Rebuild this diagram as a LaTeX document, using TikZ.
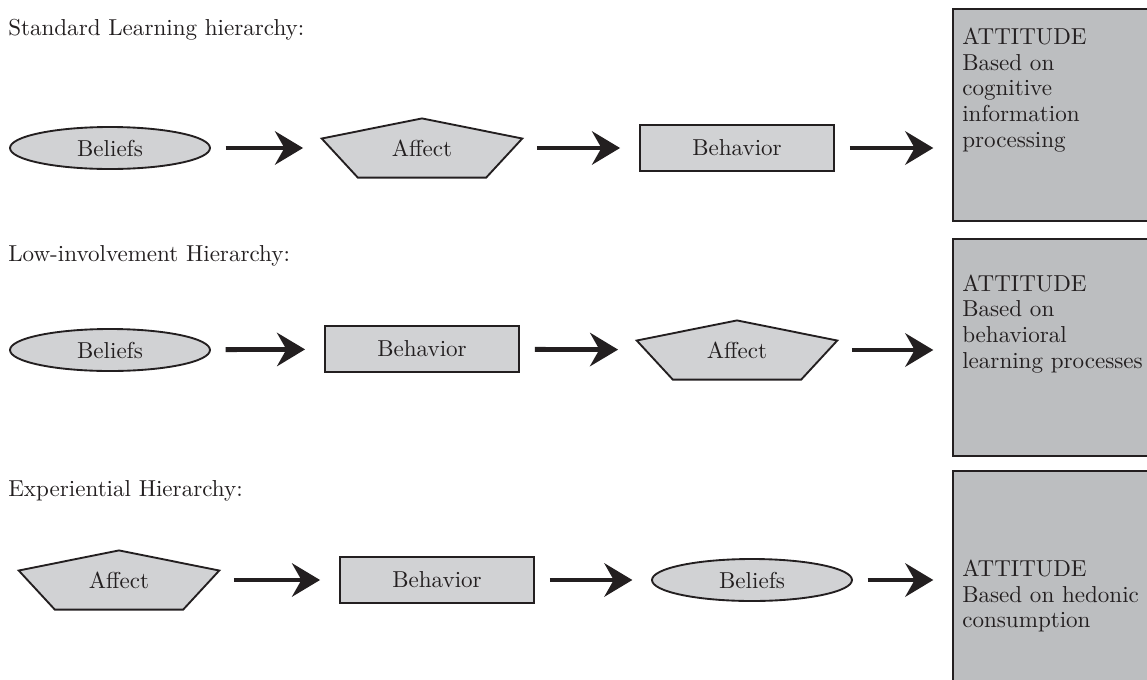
\documentclass[tikz,border=0pt]{standalone}
\usepackage{fontspec}
\setmainfont{lmroman10-regular.otf}
\usetikzlibrary{arrows.meta,shapes.geometric,calc,backgrounds}

\definecolor{ink}{RGB}{35,31,32}
\definecolor{shapefill}{RGB}{209,210,212}
\definecolor{boxfill}{RGB}{188,190,192}

% pentagon outline drawn behind a (borderless) node of the same name
\newcommand\pentaoutline[1]{%
  \begin{scope}[on background layer]
    \draw[shapeline] (#1.north)
      -- ($(#1.north west)!0.34!(#1.south west)$)
      -- ($(#1.south west)!0.18!(#1.south east)$)
      -- ($(#1.south east)!0.18!(#1.south west)$)
      -- ($(#1.north east)!0.34!(#1.south east)$) -- cycle;
  \end{scope}}

\begin{document}
\begin{tikzpicture}[x=0.75pt,y=-0.75pt,
  txt/.style={font=\fontsize{17.3}{19.4}\selectfont, text=ink},
  shapeline/.style={draw=ink, line width=1.4pt, fill=shapefill},
  heading/.style={txt, anchor=west, inner sep=0pt},
  ellnode/.style={txt, ellipse, shapeline, minimum width=150pt, minimum height=31.5pt, inner sep=0pt},
  rectnode/.style={txt, rectangle, shapeline, minimum width=146pt, minimum height=35pt, inner sep=0pt},
  pentanode/.style={txt, rectangle, minimum width=150pt, minimum height=44pt, inner sep=0pt},
  attbox/.style={rectangle, draw=ink, line width=1.6pt, fill=boxfill, anchor=north west, inner sep=0pt, minimum width=190pt},
  atttext/.style={txt, anchor=west, align=left, inner sep=0pt},
  flow/.style={draw=ink, line width=3.6pt, -{Stealth[length=21pt,width=25pt,inset=7pt]},
               shorten <=11pt, shorten >=14pt}]

\useasboundingbox (0,0) rectangle (1147,679);
\clip (0,0) rectangle (1147,679);

% ---------- Standard learning hierarchy ----------
\node[heading] (h1) at (8,30) {Standard Learning hierarchy:};
\node[ellnode]   (s1) at (110,148) {Beliefs};
\node[pentanode] (s2) at (422,148) {Affect};
\node[rectnode]  (s3) at (737,148) {Behavior};
\pentaoutline{s2}
\node[attbox, minimum height=159pt] (att1) at (952,8) {};
\node[atttext] (t1) at (962,90) {ATTITUDE\\Based on\\cognitive\\information\\processing};
\draw[flow] (s1) -- (s2);
\draw[flow] (s2) -- (s3);
\draw[flow] (s3) -- (s3 -| att1.west);

% ---------- Low-involvement hierarchy ----------
\node[heading] (h2) at (8,256) {Low-involvement Hierarchy:};
\node[ellnode]   (l1) at (110,350) {Beliefs};
\node[rectnode]  (l2) at (422,349) {Behavior};
\node[pentanode] (l3) at (737,350) {Affect};
\pentaoutline{l3}
\node[attbox, minimum height=163pt] (att2) at (952,238) {};
\node[atttext] (t2) at (962,324) {ATTITUDE\\Based on\\behavioral\\learning processes};
\draw[flow] (l1) -- (l2);
\draw[flow] (l2) -- (l3);
\draw[flow] (l3) -- (l3 -| att2.west);

% ---------- Experiential hierarchy ----------
\node[heading] (h3) at (8,491) {Experiential Hierarchy:};
\node[pentanode] (e1) at (119,580) {Affect};
\node[rectnode]  (e2) at (437,580) {Behavior};
\node[ellnode]   (e3) at (752,580) {Beliefs};
\pentaoutline{e1}
\node[attbox, minimum height=180pt] (att3) at (952,470) {};
\node[atttext] (t3) at (962,596) {ATTITUDE\\Based on hedonic\\consumption};
\draw[flow] (e1) -- (e2);
\draw[flow] (e2) -- (e3);
\draw[flow] (e3) -- (e3 -| att3.west);

\end{tikzpicture}
\end{document}
